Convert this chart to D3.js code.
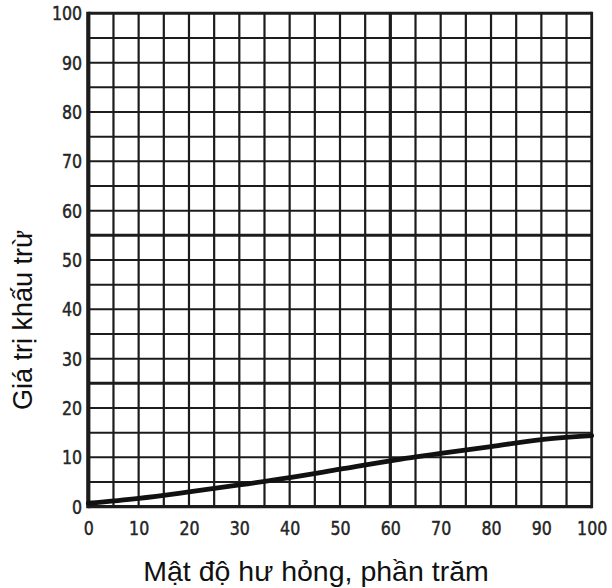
<!DOCTYPE html>
<html>
<head>
<meta charset="utf-8">
<script src="https://cdn.jsdelivr.net/npm/d3@7"></script>
<style>
  html, body { margin: 0; padding: 0; background: #fff; }
  svg { display: block; }
</style>
</head>
<body>
<svg id="chart" width="612" height="588"></svg>
<script>
// Deduct value curve vs. distress density (percent)
const density = [0, 10, 20, 30, 40, 50, 60, 70, 80, 90, 100];
const deductValue = [0.7, 1.7, 3.0, 4.4, 5.9, 7.6, 9.3, 10.8, 12.2, 13.6, 14.4];

const xTickLabels = [0, 10, 20, 30, 40, 50, 60, 70, 80, 90, 100];
const yTickLabels = [0, 10, 20, 30, 40, 50, 60, 70, 80, 90, 100];
const gridStep = 5;
const heavyX = [60];
const heavyY = [25, 55];

const xTitle = "Mật độ hư hỏng, phần trăm";
const yTitle = "Giá trị khấu trừ";

const svg = d3.select("#chart");
const plotLeft = 88.3, plotRight = 591.7, plotTop = 13.3, plotBottom = 506.7;

const x = d3.scaleLinear().domain([0, 100]).range([plotLeft, plotRight]);
const y = d3.scaleLinear().domain([0, 100]).range([plotBottom, plotTop]);

const gridVals = d3.range(0, 100 + 0.001, gridStep);
const ink = "#1c1c1c";

// grid: vertical lines
const grid = svg.append("g").attr("class", "grid");
grid.selectAll("line.v")
  .data(gridVals.filter(d => d > 0 && d < 100))
  .join("line")
  .attr("class", "v")
  .attr("x1", d => x(d)).attr("x2", d => x(d))
  .attr("y1", y(100)).attr("y2", y(0))
  .attr("stroke", ink)
  .attr("stroke-width", d => heavyX.includes(d) ? 3.2 : 2.2);

// grid: horizontal lines
grid.selectAll("line.h")
  .data(gridVals.filter(d => d > 0 && d < 100))
  .join("line")
  .attr("class", "h")
  .attr("y1", d => y(d)).attr("y2", d => y(d))
  .attr("x1", x(0)).attr("x2", x(100))
  .attr("stroke", ink)
  .attr("stroke-width", d => heavyY.includes(d) ? 3.0 : 2.0);

// frame
svg.append("line").attr("x1", x(0)).attr("x2", x(0)).attr("y1", y(100) - 1.5).attr("y2", y(0) + 1.5)
  .attr("stroke", ink).attr("stroke-width", 4.2);
svg.append("line").attr("x1", x(100)).attr("x2", x(100)).attr("y1", y(100) - 1.5).attr("y2", y(0) + 1.5)
  .attr("stroke", ink).attr("stroke-width", 2.8);
svg.append("line").attr("x1", x(0)).attr("x2", x(100)).attr("y1", y(100)).attr("y2", y(100))
  .attr("stroke", ink).attr("stroke-width", 3.0);
svg.append("line").attr("x1", x(0)).attr("x2", x(100)).attr("y1", y(0)).attr("y2", y(0))
  .attr("stroke", ink).attr("stroke-width", 3.2);

// axes (labels only, narrow digits)
const tickFont = "'DejaVu Sans Condensed', 'DejaVu Sans', sans-serif";
function styleTicks(sel) {
  sel.attr("font-family", tickFont)
    .attr("font-size", 20)
    .attr("fill", "#252525")
    .attr("stroke", "#252525").attr("stroke-width", 0.45)
    .attr("transform", "scale(0.88,1)");
}

const yAxis = svg.append("g")
  .attr("transform", `translate(${x(0)},0)`)
  .call(d3.axisLeft(y).tickValues(yTickLabels).tickSize(0).tickPadding(7).tickFormat(d3.format("d")));
yAxis.select(".domain").remove();
yAxis.selectAll("text").call(styleTicks);

const xAxis = svg.append("g")
  .attr("transform", `translate(0,${y(0)})`)
  .call(d3.axisBottom(x).tickValues(xTickLabels).tickSize(0).tickPadding(14).tickFormat(d3.format("d")));
xAxis.select(".domain").remove();
xAxis.selectAll("text").call(styleTicks);

// deduct value curve
const line = d3.line()
  .x((d, i) => x(density[i]))
  .y(d => y(d))
  .curve(d3.curveMonotoneX);

svg.append("path")
  .datum(deductValue)
  .attr("d", line)
  .attr("fill", "none")
  .attr("stroke", "#111")
  .attr("stroke-width", 4.8)
  .attr("stroke-linecap", "round");

// axis titles
svg.append("text")
  .attr("x", 316).attr("y", 581)
  .attr("text-anchor", "middle")
  .attr("font-family", "'Liberation Sans', Arial, sans-serif")
  .attr("font-size", 28.5)
  .attr("fill", "#111")
  .text(xTitle);

svg.append("text")
  .attr("transform", "translate(32,320) rotate(-90)")
  .attr("text-anchor", "middle")
  .attr("font-family", "'Liberation Sans', Arial, sans-serif")
  .attr("font-size", 27)
  .attr("fill", "#111")
  .text(yTitle);
</script>
</body>
</html>
